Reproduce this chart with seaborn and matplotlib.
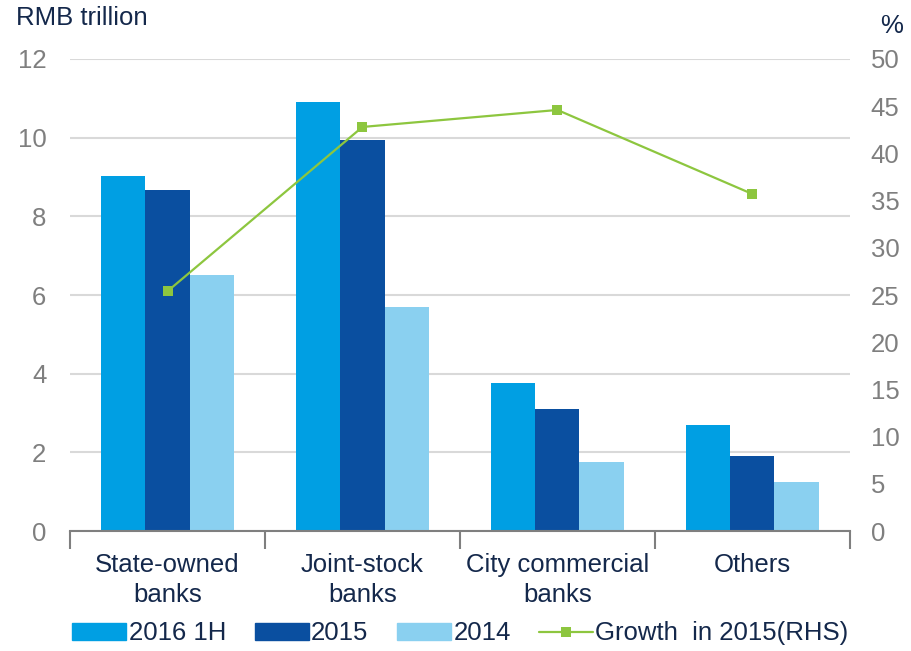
"""Bank assets by type with 2015 growth rate on a secondary axis."""

import matplotlib

matplotlib.use("Agg")
import matplotlib.pyplot as plt
from matplotlib.lines import Line2D
import numpy as np
import pandas as pd
import seaborn as sns


CATEGORIES = ["State-owned\nbanks", "Joint-stock\nbanks", "City commercial\nbanks", "Others"]
SERIES = ["2016 1H", "2015", "2014"]
VALUES_2016_1H = [9.03, 10.91, 3.76, 2.70]
VALUES_2015 = [8.67, 9.94, 3.10, 1.91]
VALUES_2014 = [6.51, 5.70, 1.75, 1.25]
GROWTH_2015 = [25.4, 42.8, 44.6, 35.7]
GROWTH_LABEL = "Growth  in 2015(RHS)"

LEFT_TICKS = [0, 2, 4, 6, 8, 10, 12]
RIGHT_TICKS = [0, 5, 10, 15, 20, 25, 30, 35, 40, 45, 50]

COLORS = ["#009FE3", "#0A4FA0", "#8AD0F0"]
GREEN = "#8DC63F"
NAVY = "#14284B"
GREY = "#7F7F7F"
FONT_SIZE = 18.5


def build_dataframe():
    rows = []
    for series, values in zip(SERIES, [VALUES_2016_1H, VALUES_2015, VALUES_2014]):
        for cat, val in zip(CATEGORIES, values):
            rows.append({"Category": cat, "Series": series, "Value": val})
    return pd.DataFrame(rows)


def main():
    sns.set_theme(style="white")
    plt.rcParams["font.family"] = ["Liberation Sans", "DejaVu Sans"]

    df = build_dataframe()

    fig = plt.figure(figsize=(9.12, 6.51), dpi=100)
    ax = fig.add_axes([0.0768, 0.1843, 0.855, 0.7251])

    sns.barplot(
        data=df,
        x="Category",
        y="Value",
        hue="Series",
        hue_order=SERIES,
        order=CATEGORIES,
        palette=COLORS,
        width=0.68,
        errorbar=None,
        saturation=1,
        linewidth=0,
        ax=ax,
    )
    ax.get_legend().remove()

    ax.set_ylim(0, 12)
    ax.set_xlim(-0.5, len(CATEGORIES) - 0.5)
    ax.set_yticks(LEFT_TICKS)
    ax.yaxis.grid(True, color="#D9D9D9", linewidth=1.5)
    ax.set_axisbelow(True)
    ax.set_xlabel("")
    ax.set_ylabel("")
    for side in ["left", "right", "top"]:
        ax.spines[side].set_visible(False)
    ax.spines["bottom"].set_color(GREY)
    ax.spines["bottom"].set_linewidth(1.5)

    ax.tick_params(axis="y", length=0, pad=17, labelsize=FONT_SIZE, labelcolor=GREY)
    ax.tick_params(axis="x", which="major", bottom=False, length=0, pad=16,
                   labelsize=FONT_SIZE, labelcolor=NAVY)
    for label in ax.get_xticklabels():
        label.set_linespacing(1.3)
    ax.set_xticks(np.arange(-0.5, len(CATEGORIES)), minor=True)
    ax.tick_params(axis="x", which="minor", bottom=True, length=13, width=1.5,
                   color=GREY, direction="out")

    ax2 = ax.twinx()
    sns.lineplot(
        x=np.arange(len(CATEGORIES)),
        y=GROWTH_2015,
        sort=False,
        color=GREEN,
        linewidth=1.6,
        marker="s",
        markersize=7,
        markeredgewidth=0,
        ax=ax2,
    )
    ax2.set_ylim(0, 50)
    ax2.set_yticks(RIGHT_TICKS)
    ax2.grid(False)
    for side in ["left", "right", "top", "bottom"]:
        ax2.spines[side].set_visible(False)
    ax2.tick_params(axis="y", length=0, pad=15, labelsize=FONT_SIZE, labelcolor=GREY)

    fig.text(0.018, 0.972, "RMB trillion", fontsize=FONT_SIZE, color=NAVY, va="center", ha="left")
    fig.text(0.99, 0.960, "%", fontsize=FONT_SIZE, color=NAVY, va="center", ha="right")

    handles = [plt.Rectangle((0, 0), 1, 1, color=c) for c in COLORS]
    handles.append(Line2D([0], [0], color=GREEN, linewidth=1.6, marker="s",
                          markersize=7, markeredgewidth=0))
    fig.legend(
        handles,
        SERIES + [GROWTH_LABEL],
        loc="center",
        bbox_to_anchor=(0.505, 0.027),
        ncol=4,
        frameon=False,
        fontsize=FONT_SIZE,
        labelcolor=NAVY,
        handlelength=2.1,
        handleheight=0.6,
        handletextpad=0.1,
        columnspacing=1.1,
    )

    fig.savefig("out.png", dpi=100)
    plt.close(fig)


if __name__ == "__main__":
    main()
